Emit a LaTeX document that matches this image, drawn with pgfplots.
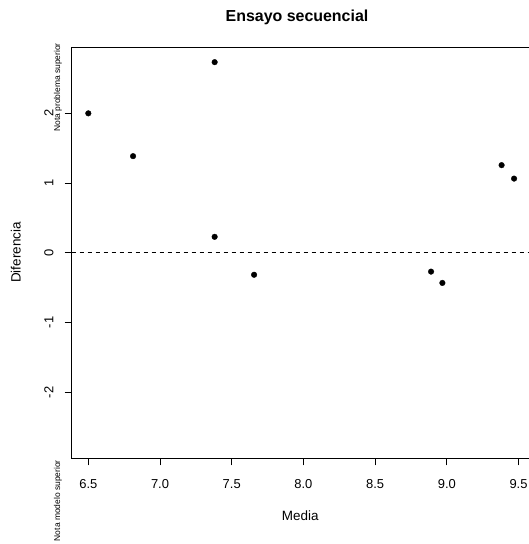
\documentclass[border=0pt]{standalone}
\usepackage{pgfplots}
\pgfplotsset{compat=1.18}
\usepackage{fontspec}
\setmainfont{Liberation Sans}
\begin{document}
\begin{tikzpicture}
\path[use as bounding box] (0,0) rectangle (529bp,544bp);
\begin{axis}[
  at={(71.7bp,85.7bp)}, anchor=south west,
  scale only axis, width=459.3bp, height=411bp,
  xmin=6.3842, xmax=9.587, ymin=-2.947, ymax=2.947,
  xtick={6.5,7,7.5,8,8.5,9,9.5},
  xticklabels={6.5,7.0,7.5,8.0,8.5,9.0,9.5},
  ytick={-2,-1,0,1,2},
  yticklabels={-2,-1,0,1,2},
  tick align=outside, xtick pos=bottom, ytick pos=left,
  major tick length=7bp,
  axis line style={line width=0.8bp},
  every tick/.style={black, line width=0.8bp},
  ticklabel style={font=\fontsize{13}{15}\selectfont, inner sep=0pt},
  yticklabel style={rotate=90, anchor=south},
  xticklabel shift=14bp, yticklabel shift=11bp,
  /pgf/number format/assume math mode=true,
]
\addplot[black, line width=0.8bp, dash pattern=on 4bp off 4bp] coordinates {(6.3842,0) (9.587,0)};
\addplot[only marks, mark=*, mark size=2.8bp, black] coordinates {
(6.500, 2.000)
(6.812, 1.386)
(7.381, 2.734)
(7.381, 0.229)
(7.656, -0.315)
(8.890, -0.270)
(8.969, -0.432)
(9.382, 1.257)
(9.469, 1.064)
};
\end{axis}
\node[anchor=base, font=\fontsize{16}{19}\selectfont\bfseries, inner sep=0pt] at (297bp,522bp) {Ensayo secuencial};
\node[anchor=base, font=\fontsize{13.5}{16}\selectfont, inner sep=0pt] at (300.3bp,24bp) {Media};
\node[anchor=base, rotate=90, font=\fontsize{13.5}{16}\selectfont, inner sep=0pt] at (20.5bp,291.5bp) {Diferencia};
\node[anchor=base east, rotate=90, font=\fontsize{8.5}{10}\selectfont, inner sep=0pt] at (60bp,501bp) {Nota problema superior};
\node[anchor=base east, rotate=90, font=\fontsize{8.5}{10}\selectfont, inner sep=0pt] at (60bp,84bp) {Nota modelo superior};
\end{tikzpicture}
\end{document}
